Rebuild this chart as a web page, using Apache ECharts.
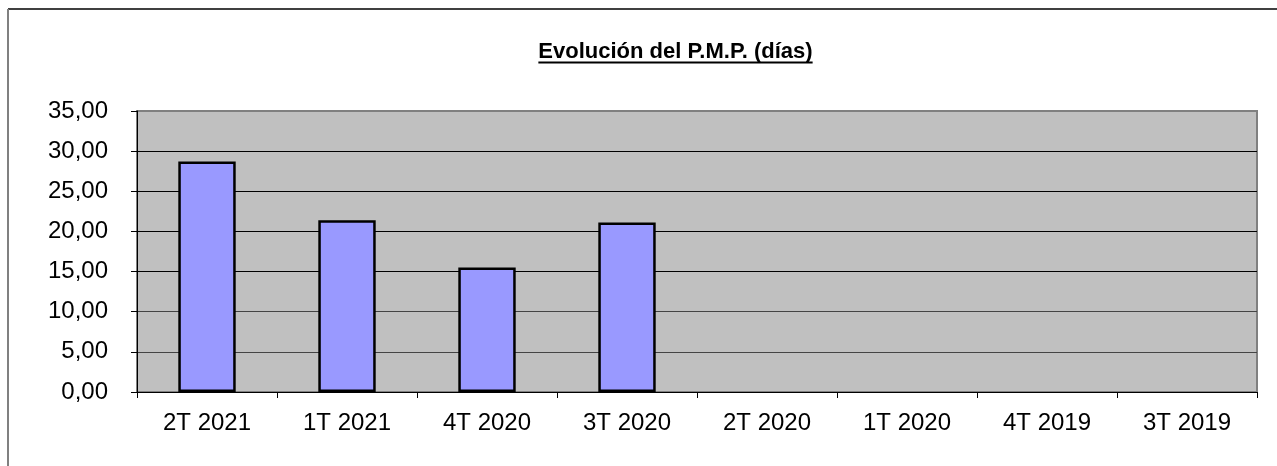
<!DOCTYPE html>
<html>
<head>
<meta charset="utf-8">
<script src="https://cdn.jsdelivr.net/npm/echarts@6/dist/echarts.min.js"></script>
<style>
html,body{margin:0;padding:0;background:#fff;}
#chart{width:1277px;height:466px;}
</style>
</head>
<body>
<div id="chart"></div>
<script>
const titleText = 'Evolución del P.M.P. (días)';
const categories = ['2T 2021', '1T 2021', '4T 2020', '3T 2020', '2T 2020', '1T 2020', '4T 2019', '3T 2019'];
const values = [28.7, 21.4, 15.5, 21.1, null, null, null, null];
const yMin = 0, yMax = 35, yStep = 5;

const FONT = '"Liberation Sans", Arial, sans-serif';
const titleFontSize = 22;
const titleCenterX = 675.5;
const titleBaseline = 58;

// measure title width for underline
const cvs = document.createElement('canvas');
const ctx = cvs.getContext('2d');
ctx.font = 'bold ' + titleFontSize + 'px ' + FONT;
const tw = ctx.measureText(titleText).width;

const chart = echarts.init(document.getElementById('chart'), null, {renderer: 'canvas'});
chart.setOption({
  backgroundColor: '#ffffff',
  animation: false,
  grid: {
    left: 137, top: 111, width: 1120, height: 281,
    show: true, backgroundColor: '#C0C0C0', borderColor: '#808080', borderWidth: 2
  },
  graphic: [
    { type: 'line', shape: {x1: 8, y1: 9, x2: 1277, y2: 9}, style: {stroke: '#000', lineWidth: 1.5}, silent: true },
    { type: 'line', shape: {x1: 8, y1: 9, x2: 8, y2: 466}, style: {stroke: '#808080', lineWidth: 2}, silent: true },
    { type: 'text', left: titleCenterX - tw / 2, top: titleBaseline - titleFontSize * 0.93 + 3,
      style: {text: titleText, font: 'bold ' + titleFontSize + 'px ' + FONT, fill: '#000'}, silent: true },
    { type: 'line', shape: {x1: titleCenterX - tw / 2, y1: 62.5, x2: titleCenterX + tw / 2, y2: 62.5},
      style: {stroke: '#000', lineWidth: 2}, silent: true }
  ],
  xAxis: {
    type: 'category',
    data: categories,
    axisLine: {show: true, lineStyle: {color: '#000', width: 1}},
    axisTick: {show: true, length: 6, lineStyle: {color: '#000'}, alignWithLabel: false},
    axisLabel: {color: '#000', fontSize: 24, fontFamily: FONT, margin: 19, interval: 0},
    splitLine: {show: false}
  },
  yAxis: {
    type: 'value',
    min: yMin, max: yMax, interval: yStep,
    axisLine: {show: true, lineStyle: {color: '#000', width: 1}},
    axisTick: {show: true, length: 6, lineStyle: {color: '#000'}},
    axisLabel: {
      color: '#000', fontSize: 24, fontFamily: FONT, margin: 29,
      formatter: v => v.toFixed(2).replace('.', ',')
    },
    splitLine: {show: true, lineStyle: {color: ['#000', '#444', '#444', '#000', '#000', '#000', '#000', '#808080'], width: 1}}
  },
  series: [{
    type: 'bar',
    data: values,
    barWidth: '41%',
    itemStyle: {color: '#9999FF', borderColor: '#000', borderWidth: 2.5}
  }]
});
</script>
</body>
</html>
